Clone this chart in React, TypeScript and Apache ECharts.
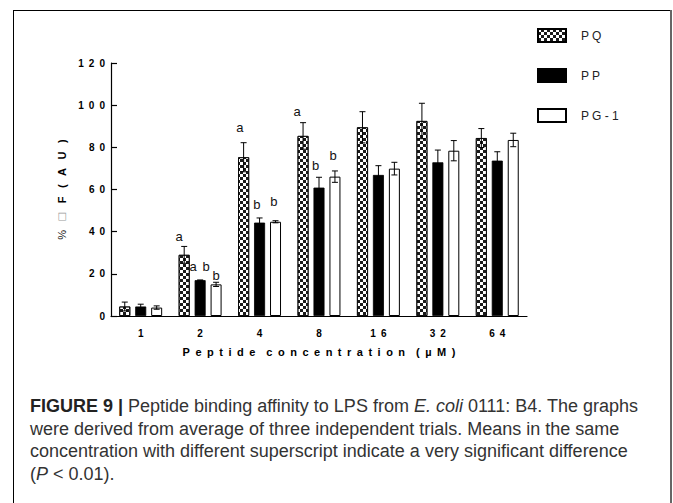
import React, { useEffect, useRef } from "react";
import * as echarts from "echarts";

// ---------- data ----------
const categories = ["1", "2", "4", "8", "16", "32", "64"];
const seriesNames = ["P Q", "P P", "P G - 1"];
const pqMean = [4.5, 29, 75.3, 85.4, 89.5, 92.5, 84.4];
const pqErr = [2.1, 4, 6.9, 6.3, 7.4, 8.4, 4.5];
const ppMean = [4.5, 17, 44.3, 60.9, 66.9, 72.9, 73.7];
const ppErr = [1.1, 0, 2.2, 4.9, 4.4, 5.8, 4.2];
const pgMean = [4, 15, 44.7, 66.1, 69.9, 78.4, 83.5];
const pgErr = [0.8, 1, 0.5, 2.7, 3, 4.8, 3.2];
const yMin = 0;
const yMax = 120;
const yStep = 20;

// significance letters: text, category index, y (data units), x offset (px) from category centre
const letterText = ["a", "a", "b", "b", "a", "b", "b", "a", "b", "b"];
const letterCat = [1, 1, 1, 1, 2, 2, 2, 3, 3, 3];
const letterY = [37.5, 23.7, 23.7, 19.2, 89.2, 52.7, 54.2, 96.8, 71.6, 76.2];
const letterDx = [-21, -7, 6, 16, -19.6, -2.6, 14.4, -22, -3.3, 14];

const xTitleWords = ["Peptide", "concentration", "(µM)"];
const yTitleParts = ["%", "□", "F", "(", "A", "U", ")"];
const captionLines = [
  "{b|FIGURE 9 |} Peptide binding affinity to LPS from {i|E. coli} 0111: B4. The graphs",
  "were derived from average of three independent trials. Means in the same",
  "concentration with different superscript indicate a very significant difference",
  "({i|P} < 0.01).",
];

// ---------- styles ----------
const EN = "\u2002";
const GAP = "\u2002 ";
const spaced = (s: string) => s.split("").join(EN);
const AXIS_FONT = "'Liberation Sans', Arial, sans-serif";
const CAP_FONT = "'Liberation Sans', Arial, sans-serif";
const CAP_SIZE = 18;
const BAR_W = 11;
const BAR_GAP = 0.45;
const BAR_STEP = BAR_W * (1 + BAR_GAP);

export default function App() {
  const ref = useRef<HTMLDivElement>(null);
  useEffect(() => {
    if (!ref.current) return;
    const chart = echarts.init(ref.current, null, { renderer: "svg" });
    const means = [pqMean, ppMean, pgMean];
    const errs = [pqErr, ppErr, pgErr];
    const errData: number[][] = [];
    means.forEach((m, s) =>
      m.forEach((v, i) => errData.push([i, v, errs[s][i], s]))
    );
    const letterData = letterText.map((_, k) => [letterCat[k], letterY[k], letterDx[k], k]);

    const checker = {
      symbol: "rect",
      symbolSize: 1,
      dashArrayX: [[3, 3], [0, 3, 3, 0]],
      dashArrayY: [3, 0],
      color: "#1a1a1a",
      rotation: 0,
    };
    const barStyles = [
      { color: "#ffffff", borderColor: "#000", borderWidth: 0.8, decal: checker },
      { color: "#000000", borderColor: "#000", borderWidth: 0.8 },
      { color: "#ffffff", borderColor: "#000", borderWidth: 1 },
    ];

    const captionGraphics = captionLines.map((t, i) => ({
      type: "text",
      x: 30,
      y: 406 + i * 22.5,
      silent: true,
      style: {
        text: t,
        fontFamily: CAP_FONT,
        fontSize: CAP_SIZE,
        fill: "#333",
        verticalAlign: "middle",
        align: "left",
        rich: {
          b: { fontFamily: CAP_FONT, fontSize: CAP_SIZE, fontWeight: "bold", fill: "#222" },
          i: { fontFamily: CAP_FONT, fontSize: CAP_SIZE, fontStyle: "italic", fill: "#333" },
        },
      },
    }));

    const yName =
      "{p|" + yTitleParts[0] + "}" + GAP + "{q|" + yTitleParts[1] + "}" + GAP +
      "{b|" + yTitleParts.slice(2).join(GAP) + "}";

    chart.setOption({
      animation: false,
      backgroundColor: "#ffffff",
      grid: { left: 111, right: 146, top: 63, bottom: 187, containLabel: false },
      legend: {
        orient: "vertical",
        left: 532,
        top: 23,
        itemWidth: 28,
        itemHeight: 13,
        itemGap: 25,
        icon: "rect",
        data: seriesNames,
        textStyle: {
          fontFamily: AXIS_FONT,
          fontSize: 12,
          color: "#222",
          padding: [0, 0, 0, 10],
        },
      },
      xAxis: {
        type: "category",
        data: categories,
        axisLine: { lineStyle: { color: "#000", width: 1.2 } },
        axisTick: { show: false },
        axisLabel: {
          margin: 12,
          formatter: (v: string) => spaced(v),
          fontFamily: AXIS_FONT,
          fontWeight: "bold",
          fontSize: 10,
          color: "#000",
        },
        name: xTitleWords.map(spaced).join(EN + EN),
        nameLocation: "middle",
        nameGap: 30.5,
        nameTextStyle: {
          fontFamily: AXIS_FONT,
          fontWeight: "bold",
          fontSize: 11,
          color: "#000",
        },
      },
      yAxis: {
        type: "value",
        min: yMin,
        max: yMax,
        interval: yStep,
        splitLine: { show: false },
        axisLine: { show: true, lineStyle: { color: "#000", width: 1.2 } },
        axisTick: { show: true, inside: true, length: 6, lineStyle: { color: "#000", width: 1.2 } },
        axisLabel: {
          margin: 6,
          formatter: (v: number) => spaced(String(v)),
          fontFamily: AXIS_FONT,
          fontWeight: "bold",
          fontSize: 10,
          color: "#000",
        },
        name: yName,
        nameLocation: "middle",
        nameRotate: 90,
        nameGap: 39,
        nameTextStyle: {
          fontFamily: AXIS_FONT,
          fontSize: 11,
          fontWeight: "bold",
          color: "#000",
          rich: {
            p: { fontFamily: AXIS_FONT, fontSize: 11, fontWeight: "normal", color: "#111" },
            q: { fontFamily: "'DejaVu Sans', sans-serif", fontSize: 10, color: "#999" },
            b: { fontFamily: AXIS_FONT, fontSize: 11, fontWeight: "bold", color: "#000" },
          },
        },
      },
      series: [
        ...seriesNames.map((name, s) => ({
          type: "bar",
          name,
          data: means[s],
          barWidth: BAR_W,
          barGap: BAR_GAP * 100 + "%",
          itemStyle: barStyles[s],
          z: 2,
        })),
        {
          type: "custom",
          name: "error",
          data: errData,
          z: 5,
          itemStyle: { color: "#000" },
          renderItem: (_p: any, api: any) => {
            const cat = api.value(0);
            const m = api.value(1);
            const e = api.value(2);
            const s = api.value(3);
            const c = api.coord([cat, m]);
            const x = c[0] + (s - 1) * BAR_STEP;
            const top = api.coord([cat, m + e])[1];
            const bot = api.coord([cat, m - e])[1];
            const st = { stroke: "#000", lineWidth: 1 };
            return {
              type: "group",
              children: [
                { type: "line", shape: { x1: x, y1: top, x2: x, y2: bot }, style: st },
                { type: "line", shape: { x1: x - 3, y1: top, x2: x + 3, y2: top }, style: st },
                { type: "line", shape: { x1: x - 3, y1: bot, x2: x + 3, y2: bot }, style: st },
              ],
            };
          },
        },
        {
          type: "custom",
          name: "letters",
          data: letterData,
          z: 6,
          itemStyle: { color: "#111" },
          renderItem: (_p: any, api: any) => {
            const c = api.coord([api.value(0), api.value(1)]);
            const k = api.value(3);
            return {
              type: "text",
              x: c[0] + api.value(2),
              y: c[1],
              style: {
                text: letterText[k],
                fontFamily: AXIS_FONT,
                fontSize: 13,
                fill: "#111",
                align: "center",
                verticalAlign: "middle",
              },
            };
          },
        },
      ],
      graphic: [
        { type: "line", shape: { x1: 13, y1: 10.5, x2: 670, y2: 10.5 }, style: { stroke: "#000", lineWidth: 1 }, silent: true },
        { type: "line", shape: { x1: 13.5, y1: 10, x2: 13.5, y2: 503 }, style: { stroke: "#000", lineWidth: 1 }, silent: true },
        { type: "line", shape: { x1: 671, y1: 10, x2: 671, y2: 503 }, style: { stroke: "#666", lineWidth: 2 }, silent: true },
        ...captionGraphics,
      ],
    });
    return () => chart.dispose();
  }, []);
  return (
    <div
      ref={ref}
      style={{ position: "fixed", left: 0, top: 0, width: 673, height: 503, background: "#fff" }}
    />
  );
}
